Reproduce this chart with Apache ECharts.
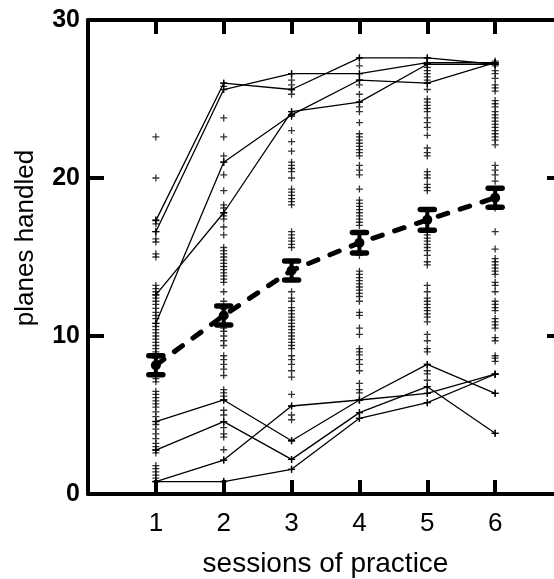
<!DOCTYPE html>
<html>
<head>
<meta charset="utf-8">
<script src="https://cdn.jsdelivr.net/npm/echarts@6/dist/echarts.min.js"></script>
<style>
html,body{margin:0;padding:0;background:#fff;}
#chart{width:554px;height:579px;}
</style>
</head>
<body>
<div id="chart"></div>
<script>
// ---- data ----
const sessions = [1, 2, 3, 4, 5, 6];
const xTickLabels = ['1', '2', '3', '4', '5', '6'];
const yTickLabels = ['0', '10', '20', '30'];

const meanScores = [8.15, 11.3, 14.15, 15.9, 17.35, 18.75];
const meanErrors = [0.6, 0.6, 0.6, 0.65, 0.65, 0.6];

const upper1 = [17.3, 26.0, 25.6, 27.6, 27.6, 27.2];
const upper2 = [16.6, 25.6, 26.6, 26.6, 27.3, 27.3];
const upper3 = [12.6, 17.8, 24.2, 24.8, 27.2, 27.2];
const upper4 = [10.8, 21.0, 24.0, 26.2, 26.0, 27.3];

const lower1 = [4.58, 5.95, 3.37, 5.95, 8.2, 6.37];
const lower2 = [2.78, 4.58, 2.19, 5.15, 6.79, 3.84];
const lower3 = [0.78, 2.15, 5.57, 5.95, 6.37, 7.58];
const lower4 = [0.78, 0.78, 1.56, 4.79, 5.78, 7.58];

const session1 = [22.6, 20.0, 17.35, 17.1, 16.6, 16.15, 15.95, 15.2, 15.0, 13.2, 13.0, 12.8, 12.6, 12.4, 12.2, 12.0, 11.75, 11.5, 11.3, 11.1, 10.8, 10.6, 10.4, 10.2, 10.0, 9.8, 9.6, 9.4, 9.2, 9.0, 8.8, 8.6, 7.5, 7.3, 7.1, 6.5, 6.3, 6.1, 5.9, 5.7, 5.5, 5.2, 4.9, 4.6, 4.4, 4.1, 3.8, 3.5, 3.2, 3.0, 2.8, 2.6, 1.8, 1.6, 1.4, 1.2, 1.0, 0.8];
const session2 = [26.0, 25.8, 23.8, 22.6, 21.4, 21.0, 20.2, 19.2, 18.3, 18.1, 17.8, 17.6, 17.4, 16.9, 16.4, 15.6, 15.4, 15.2, 15.0, 14.8, 14.6, 14.4, 14.2, 14.0, 13.8, 13.6, 13.4, 12.8, 12.2, 11.7, 10.7, 10.5, 10.3, 10.0, 9.7, 9.4, 8.75, 8.5, 8.2, 7.9, 7.5, 6.6, 6.4, 6.2, 5.95, 5.3, 5.0, 4.58, 4.2, 3.8, 3.6, 2.8, 2.15, 0.8];
const session3 = [26.6, 26.2, 25.9, 25.6, 25.3, 24.2, 24.0, 23.9, 23.0, 22.3, 21.7, 21.0, 20.8, 20.6, 20.4, 20.0, 19.3, 19.1, 18.9, 18.7, 18.5, 18.3, 16.6, 16.4, 16.2, 16.0, 15.8, 15.6, 12.8, 12.4, 12.2, 11.8, 11.6, 11.4, 11.2, 11.0, 10.8, 10.6, 10.4, 10.2, 10.0, 9.8, 9.6, 9.4, 9.2, 8.75, 8.5, 8.2, 7.8, 7.4, 6.3, 5.57, 5.0, 4.7, 3.37, 2.19, 1.56];
const session4 = [27.6, 27.1, 26.6, 26.2, 25.9, 25.3, 24.8, 24.5, 24.2, 23.5, 22.8, 22.6, 22.4, 22.2, 22.0, 21.8, 21.6, 21.4, 20.8, 20.5, 20.2, 19.3, 18.6, 18.4, 18.2, 18.0, 17.8, 17.6, 17.4, 17.2, 17.0, 15.1, 14.1, 13.9, 13.7, 13.5, 13.3, 13.1, 12.9, 12.7, 12.5, 12.2, 11.5, 11.3, 10.5, 10.1, 9.2, 9.0, 8.8, 8.5, 8.2, 7.8, 7.0, 6.6, 6.4, 5.95, 5.15, 4.79];
const session5 = [27.6, 27.3, 27.2, 27.0, 26.8, 26.6, 26.4, 26.2, 26.0, 25.6, 25.0, 24.8, 24.6, 24.4, 24.2, 23.8, 23.5, 23.2, 22.7, 21.9, 21.6, 21.4, 20.4, 20.2, 20.0, 19.6, 19.4, 19.2, 16.6, 16.4, 16.2, 16.0, 15.8, 15.6, 15.4, 15.1, 14.7, 14.5, 13.2, 12.8, 12.4, 12.2, 12.0, 11.8, 11.6, 11.4, 11.2, 10.9, 10.1, 9.7, 9.2, 9.0, 8.2, 7.8, 7.6, 7.2, 6.79, 6.37, 5.78];
const session6 = [27.4, 27.3, 27.2, 27.1, 26.8, 26.6, 26.3, 25.9, 25.7, 25.5, 24.9, 24.7, 24.5, 24.2, 24.0, 23.8, 23.6, 23.4, 23.2, 23.0, 22.8, 22.6, 22.4, 22.1, 20.8, 20.5, 20.2, 19.8, 18.1, 16.6, 15.5, 14.9, 14.7, 14.5, 14.3, 14.1, 13.9, 13.4, 13.2, 12.8, 12.2, 12.0, 11.8, 11.6, 11.1, 10.9, 10.7, 10.5, 9.9, 9.7, 8.75, 8.6, 8.4, 7.58, 6.37, 3.84];

// ---- build series ----
const sessionValues = [session1, session2, session3, session4, session5, session6];
const scatterData = [];
sessionValues.forEach((vals, i) => vals.forEach(v => scatterData.push([sessions[i], v])));

const individualLines = [upper1, upper2, upper3, upper4, lower1, lower2, lower3, lower4];
const plusSymbol = 'path://M2.85,0H4.15V2.85H7V4.15H4.15V7H2.85V4.15H0V2.85H2.85Z';

const lineSeries = individualLines.map(arr => ({
  type: 'line',
  data: arr.map((v, i) => [sessions[i], v]),
  symbol: plusSymbol,
  symbolSize: 7,
  showSymbol: true,
  itemStyle: { color: '#000' },
  lineStyle: { color: '#000', width: 1.3 },
  silent: true,
  z: 3,
  animation: false
}));

const errData = meanScores.map((m, i) => [sessions[i], m - meanErrors[i], m + meanErrors[i]]);

const FONT = '"Liberation Sans", Arial, Helvetica, sans-serif';

const chart = echarts.init(document.getElementById('chart'), null, { renderer: 'canvas' });

const axisLineStyle = { show: true, onZero: false, lineStyle: { color: '#000', width: 4 } };

const option = {
  backgroundColor: '#fff',
  animation: false,
  grid: { left: 88, top: 20, width: 475, height: 474, containLabel: false, outerBoundsMode: 'none' },
  xAxis: [
    {
      type: 'value', min: 0, max: 7, interval: 1, position: 'bottom',
      axisLine: axisLineStyle,
      axisTick: { show: true, inside: true, length: 14, lineStyle: { color: '#000', width: 4 } },
      axisLabel: {
        color: '#000', fontFamily: FONT, fontSize: 26, margin: 17,
        formatter: v => (v >= 1 && v <= 6) ? xTickLabels[v - 1] : ''
      },
      splitLine: { show: false },
      name: 'sessions of practice', nameLocation: 'middle', nameGap: 56,
      nameTextStyle: { color: '#000', fontFamily: FONT, fontSize: 28 }
    },
    {
      type: 'value', min: 0, max: 7, interval: 1, position: 'top',
      axisLine: axisLineStyle,
      axisTick: { show: true, inside: true, length: 14, lineStyle: { color: '#000', width: 4 } },
      axisLabel: { show: false },
      splitLine: { show: false }
    }
  ],
  yAxis: [
    {
      type: 'value', min: 0, max: 30, interval: 10, position: 'left',
      axisLine: axisLineStyle,
      axisTick: { show: true, inside: true, length: 16, lineStyle: { color: '#000', width: 4 } },
      axisLabel: {
        color: '#000', fontFamily: FONT, fontSize: 25, fontWeight: 'bold', margin: 8,
        formatter: v => yTickLabels[v / 10]
      },
      splitLine: { show: false },
      name: 'planes handled', nameLocation: 'middle', nameGap: 49,
      nameTextStyle: { color: '#000', fontFamily: FONT, fontSize: 26, padding: [0, 0, 0, 38] }
    },
    {
      type: 'value', min: 0, max: 30, interval: 10, position: 'right',
      axisLine: axisLineStyle,
      axisTick: { show: true, inside: true, length: 16, lineStyle: { color: '#000', width: 4 } },
      axisLabel: { show: false },
      splitLine: { show: false }
    }
  ],
  series: [
    {
      type: 'scatter',
      data: scatterData,
      symbol: plusSymbol,
      symbolSize: 7,
      itemStyle: { color: '#000' },
      silent: true,
      z: 2
    },
    ...lineSeries,
    {
      type: 'line',
      data: meanScores.map((m, i) => [sessions[i], m]),
      symbol: 'circle',
      symbolSize: 10,
      itemStyle: { color: '#000' },
      lineStyle: { color: '#000', width: 5, type: [10, 13], cap: 'round' },
      silent: true,
      z: 5
    },
    {
      type: 'custom',
      data: errData,
      encode: { x: 0, y: [1, 2] },
      silent: true,
      z: 6,
      renderItem: function (params, api) {
        const x = api.value(0);
        const lo = api.coord([x, api.value(1)]);
        const hi = api.coord([x, api.value(2)]);
        const half = 7;
        const st = { stroke: '#000', lineWidth: 5.5, lineCap: 'round' };
        return {
          type: 'group',
          children: [
            { type: 'line', shape: { x1: lo[0], y1: lo[1], x2: hi[0], y2: hi[1] }, style: { stroke: '#000', lineWidth: 4 } },
            { type: 'line', shape: { x1: lo[0] - half, y1: lo[1], x2: lo[0] + half, y2: lo[1] }, style: st },
            { type: 'line', shape: { x1: hi[0] - half, y1: hi[1], x2: hi[0] + half, y2: hi[1] }, style: st }
          ]
        };
      }
    }
  ]
};
chart.setOption(option);
</script>
</body>
</html>
